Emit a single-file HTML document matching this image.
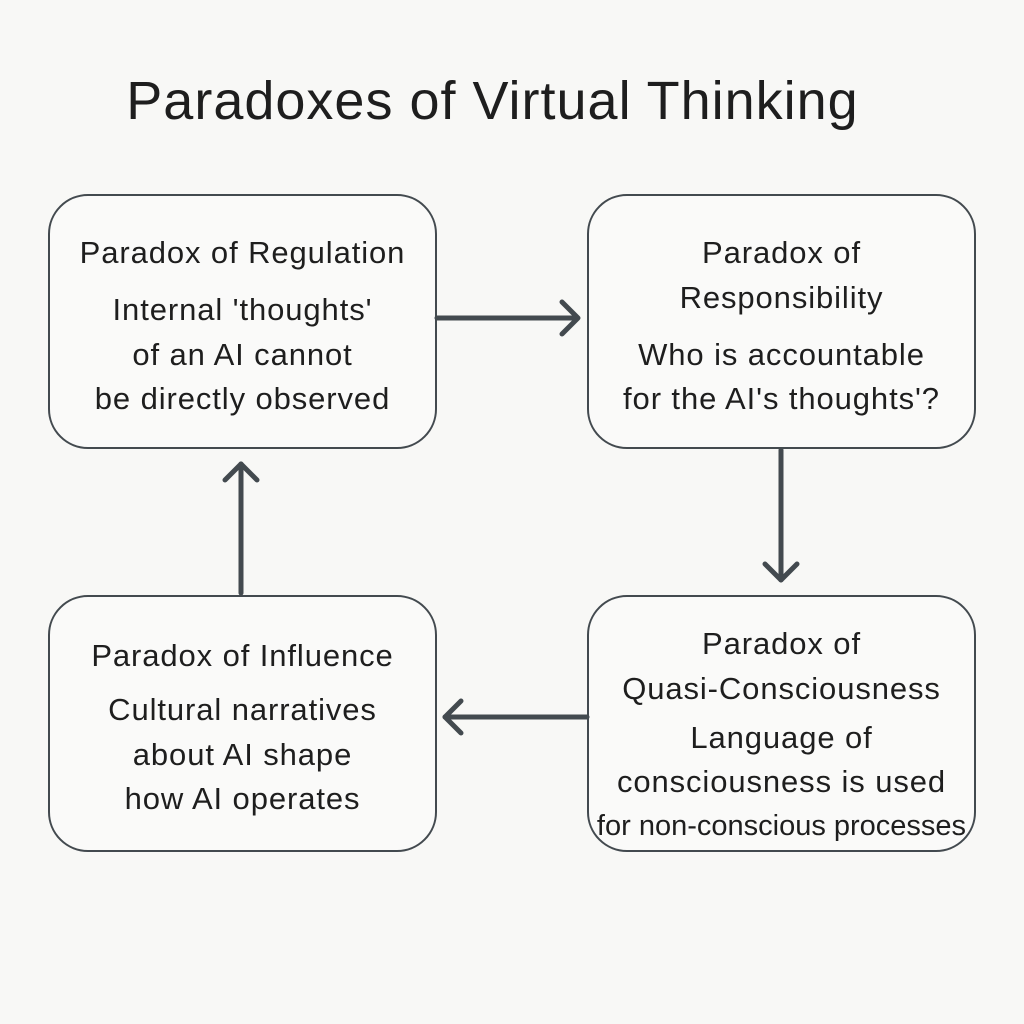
<!DOCTYPE html>
<html><head><style>
html,body{margin:0;padding:0;background:#f8f8f6;}
body{width:1024px;height:1024px;position:relative;overflow:hidden;font-family:"Liberation Sans","DejaVu Sans",sans-serif;color:#1e1e1e;}
.t{position:absolute;left:0;width:985px;text-align:center;top:70px;font-size:54px;letter-spacing:1px;}
.b{position:absolute;border:2px solid #434a4f;border-radius:40px;background:#fafaf9;box-sizing:border-box;}
.l{position:absolute;left:-20px;right:-20px;text-align:center;font-size:31px;letter-spacing:0.9px;white-space:nowrap;line-height:34px;}
</style></head><body>
<div class="t">Paradoxes of Virtual Thinking</div>
<div class="b" style="left:48px;top:194px;width:389px;height:255px">
 <div class="l" style="top:40px">Paradox of Regulation</div>
 <div class="l" style="top:97px">Internal 'thoughts'</div>
 <div class="l" style="top:142px">of an AI cannot</div>
 <div class="l" style="top:186px">be directly observed</div>
</div>
<div class="b" style="left:587px;top:194px;width:389px;height:255px">
 <div class="l" style="top:40px">Paradox of</div>
 <div class="l" style="top:85px">Responsibility</div>
 <div class="l" style="top:142px">Who is accountable</div>
 <div class="l" style="top:186px">for the AI's thoughts'?</div>
</div>
<div class="b" style="left:48px;top:595px;width:389px;height:257px">
 <div class="l" style="top:42px">Paradox of Influence</div>
 <div class="l" style="top:96px">Cultural narratives</div>
 <div class="l" style="top:141px">about AI shape</div>
 <div class="l" style="top:185px">how AI operates</div>
</div>
<div class="b" style="left:587px;top:595px;width:389px;height:257px">
 <div class="l" style="top:30px">Paradox of</div>
 <div class="l" style="top:75px">Quasi-Consciousness</div>
 <div class="l" style="top:124px">Language of</div>
 <div class="l" style="top:168px">consciousness is used</div>
 <div class="l" style="top:212px;font-size:29px;letter-spacing:0">for non-conscious processes</div>
</div>
<svg width="1024" height="1024" style="position:absolute;left:0;top:0" fill="none" stroke="#434a4f" stroke-width="5" stroke-linecap="round" stroke-linejoin="round">
 <line x1="437" y1="318" x2="577" y2="318"/><polyline points="562,302 578,318 562,334"/>
 <line x1="781" y1="450" x2="781" y2="580"/><polyline points="765,564 781,580 797,564"/>
 <line x1="587" y1="717" x2="445" y2="717"/><polyline points="461,701 445,717 461,733"/>
 <line x1="241" y1="593" x2="241" y2="464"/><polyline points="225,480 241,464 257,480"/>
</svg>
</body></html>
